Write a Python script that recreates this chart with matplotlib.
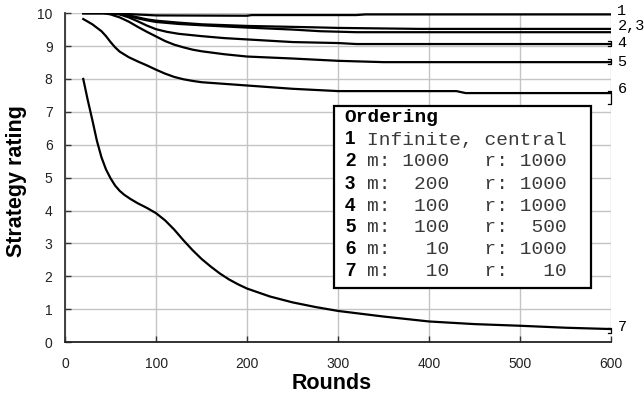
import matplotlib
matplotlib.use("Agg")
import matplotlib.pyplot as plt
from matplotlib.patches import Rectangle

# rating curves (rounds, rating)
x1 = [20, 50, 60, 70, 85, 100, 200, 205, 320, 330, 600]
y1 = [10, 10, 9.99, 9.97, 9.95, 9.93, 9.92, 9.94, 9.94, 9.96, 9.96]
x2 = [20, 50, 60, 70, 80, 90, 100, 125, 150, 200, 270, 300, 390, 600]
y2 = [10, 10, 9.98, 9.93, 9.87, 9.81, 9.77, 9.71, 9.66, 9.61, 9.57, 9.55, 9.52, 9.52]
x3 = [20, 50, 60, 70, 80, 90, 100, 125, 150, 200, 250, 280, 320, 600]
y3 = [10, 10, 9.97, 9.91, 9.84, 9.78, 9.73, 9.67, 9.63, 9.56, 9.5, 9.45, 9.42, 9.42]
x4 = [20, 50, 60, 70, 80, 90, 100, 112, 125, 150, 175, 200, 250, 300, 320, 600]
y4 = [10, 10, 9.96, 9.87, 9.75, 9.62, 9.51, 9.43, 9.37, 9.3, 9.24, 9.2, 9.12, 9.09, 9.06, 9.06]
x5 = [20, 42, 50, 60, 70, 80, 90, 100, 110, 120, 130, 140, 150, 175, 200, 250, 300, 350, 600]
y5 = [10, 10, 9.96, 9.87, 9.74, 9.58, 9.43, 9.29, 9.15, 9.04, 8.96, 8.89, 8.84, 8.75, 8.68, 8.62, 8.55, 8.51, 8.51]
x6 = [20, 30, 40, 45, 50, 55, 60, 70, 80, 90, 100, 110, 120, 130, 140, 150, 175, 200, 250, 300, 430, 440, 600]
y6 = [9.82, 9.66, 9.45, 9.3, 9.12, 8.96, 8.83, 8.66, 8.53, 8.41, 8.28, 8.16, 8.06, 7.99, 7.94, 7.9, 7.85,
      7.8, 7.7, 7.63, 7.63, 7.57, 7.57]
x7 = [20, 25, 30, 35, 40, 45, 50, 55, 60, 65, 72, 80, 90, 100, 110, 120, 130, 140, 150, 160, 170, 180,
      190, 200, 225, 250, 275, 300, 350, 400, 450, 500, 550, 600]
y7 = [8.0, 7.35, 6.75, 6.12, 5.62, 5.25, 4.98, 4.76, 4.6, 4.48, 4.35, 4.22, 4.08, 3.92, 3.7, 3.42, 3.1,
      2.8, 2.53, 2.3, 2.09, 1.91, 1.76, 1.63, 1.39, 1.21, 1.07, 0.95, 0.78, 0.63, 0.55, 0.5, 0.44, 0.4]

# end labels and spread brackets at round 600
end_labels = ["1", "2,3", "4", "5", "6", "7"]
end_label_y = [10.05, 9.62, 9.08, 8.52, 7.68, 0.46]
bracket_lo = [9.0, 8.45, 7.24, 0.28]
bracket_hi = [9.15, 8.6, 7.64, 0.43]

legend_nums = ["1", "2", "3", "4", "5", "6", "7"]
legend_rows = ["Infinite, central",
               "m: 1000   r: 1000",
               "m:  200   r: 1000",
               "m:  100   r: 1000",
               "m:  100   r:  500",
               "m:   10   r: 1000",
               "m:   10   r:   10"]

fig = plt.figure(figsize=(6.44, 3.97), dpi=100)
ax = fig.add_axes([0.101, 0.138, 0.848, 0.829])

for xs, ys in [(x1, y1), (x2, y2), (x3, y3), (x4, y4), (x5, y5), (x6, y6), (x7, y7)]:
    ax.plot(xs, ys, color="black", lw=1.6, zorder=3, solid_joinstyle="round")

ax.set_xlim(0, 600)
ax.set_ylim(0, 10)
ax.set_xticks(range(0, 601, 100))
ax.set_yticks(range(0, 11))
ax.grid(True, color="#c4c4c4", lw=1.0)
ax.set_axisbelow(True)
for s in ["top", "right"]:
    ax.spines[s].set_visible(False)
ax.spines["left"].set_color("#333333")
ax.spines["left"].set_linewidth(1.3)
ax.spines["bottom"].set_color("#222222")
ax.spines["bottom"].set_linewidth(1.3)
ax.tick_params(axis="both", direction="in", length=4, color="#333333",
               labelsize=10, labelcolor="#222222", width=1)
ax.tick_params(axis="x", pad=11)
ax.tick_params(axis="y", pad=9)
for lab in ax.get_xticklabels() + ax.get_yticklabels():
    lab.set_family("Liberation Sans")

ax.set_xlabel("Rounds", fontsize=15.5, fontweight="bold", family="Liberation Sans")
ax.set_ylabel("Strategy rating", fontsize=15.5, fontweight="bold", family="Liberation Sans")
ax.xaxis.set_label_coords(0.488, -0.095)
ax.yaxis.set_label_coords(-0.07, 0.49)

# right-hand labels and brackets
for lab, yy in zip(end_labels, end_label_y):
    ax.annotate(lab, xy=(600, yy), xytext=(4.5, 0), textcoords="offset points",
                va="center", ha="left", fontsize=11, family="Liberation Mono",
                annotation_clip=False)
for lo, hi in zip(bracket_lo, bracket_hi):
    ax.plot([596, 600, 600, 596], [lo, lo, hi, hi], color="black", lw=0.9,
            clip_on=False, zorder=3)

# ordering box
ax.add_patch(Rectangle((0.4927, 0.165), 0.4706, 0.5526, transform=ax.transAxes,
                       facecolor="white", edgecolor="black", lw=1.6, zorder=4))
W, H = 644.0, 397.0
fig.text(344 / W, 1 - 118 / H, "Ordering", fontsize=14, fontweight="bold",
         family="Liberation Mono", va="center", ha="left", zorder=5)
for i, (n, row) in enumerate(zip(legend_nums, legend_rows)):
    yc = 1 - (140 + 22 * i) / H
    fig.text(345 / W, yc, n, fontsize=13.5, fontweight="bold",
             family="Liberation Sans", va="center", ha="left", zorder=5)
    fig.text(367 / W, yc, row, fontsize=14, family="Liberation Mono",
             color="#3a3a3a", va="center", ha="left", zorder=5)

fig.savefig("out.png", dpi=100)
